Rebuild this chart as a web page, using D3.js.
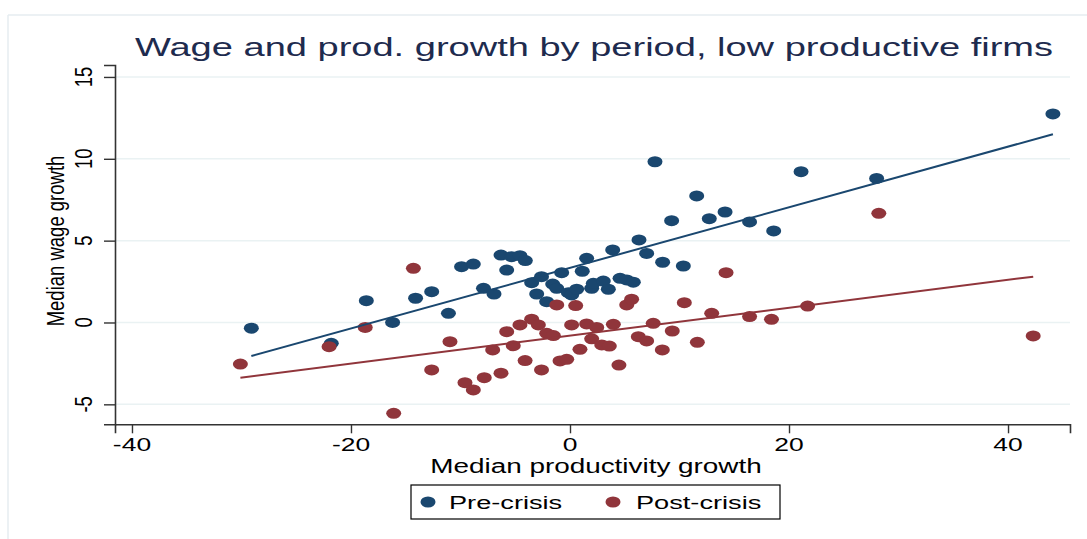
<!DOCTYPE html>
<html>
<head>
<meta charset="utf-8">
<script src="https://cdn.jsdelivr.net/npm/d3@7/dist/d3.min.js"></script>
<style>
  html, body { margin: 0; padding: 0; background: #ffffff; }
  svg { display: block; }
  text { font-family: "Liberation Sans", Arial, sans-serif; }
</style>
</head>
<body>
<svg id="chart" width="1087" height="539"></svg>
<script>
// ---- Data ----
const preX = [-29.1,-21.8,-18.6,-16.2,-14.1,-12.63,-11.1,-9.9,-8.83,-7.9,-6.94,-6.3,-5.78,-5.33,-4.57,-4.08,-3.5,-3.04,-2.6,-2.13,-1.58,-1.21,-0.76,-0.15,0.15,0.61,1.12,1.52,1.98,2.13,3.04,3.5,3.9,4.57,5.18,5.78,6.3,7.0,7.76,8.46,9.28,10.35,11.57,12.72,14.16,16.4,18.6,21.1,28.0,44.1];
const preY = [-0.35,-1.27,1.33,0.0,1.48,1.88,0.56,3.41,3.57,2.09,1.74,4.12,3.2,4.02,4.08,3.78,2.43,1.74,2.8,1.27,2.35,2.09,3.04,1.82,1.68,2.03,3.13,3.92,2.09,2.39,2.53,2.03,4.43,2.7,2.6,2.46,5.04,4.22,9.82,3.68,6.22,3.45,7.73,6.34,6.75,6.14,5.59,9.21,8.8,12.74];
const postX = [-30.1,-22.0,-18.7,-16.1,-14.3,-12.63,-10.96,-9.59,-8.83,-7.83,-7.06,-6.3,-5.78,-5.18,-4.57,-4.1,-3.5,-2.89,-2.6,-2.13,-1.52,-1.21,-0.91,-0.3,0.15,0.52,0.91,1.52,1.98,2.44,2.9,3.59,3.96,4.47,5.18,5.63,6.24,7.0,7.6,8.43,9.34,10.44,11.63,12.94,14.25,16.4,18.4,21.7,28.2,42.3];
const postY = [-2.54,-1.48,-0.3,-5.55,3.31,-2.9,-1.17,-3.68,-4.12,-3.37,-1.68,-3.1,-0.56,-1.42,-0.15,-2.33,0.2,-0.15,-2.9,-0.66,-0.8,1.07,-2.35,-2.25,-0.15,1.03,-1.64,-0.09,-1.0,-0.3,-1.37,-1.44,-0.11,-2.6,1.07,1.42,-0.87,-1.13,-0.05,-1.68,-0.52,1.21,-1.21,0.56,3.04,0.36,0.19,1.0,6.67,-0.82];
// fitted lines (endpoints)
const preFitX = [-29.1, 44.1];
const preFitY = [-2.05, 11.5];
const postFitX = [-30.1, 42.3];
const postFitY = [-3.37, 2.8];
const xTicks = [-40, -20, 0, 20, 40];
const yTicks = [-5, 0, 5, 10, 15];
const seriesNames = ["Pre-crisis", "Post-crisis"];
const titleText = "Wage and prod. growth by period, low productive firms";
const xTitle = "Median productivity growth";
const yTitle = "Median wage growth";

// ---- Layout ----
const SX = 1.43;  // horizontal stretch of the reference (horizontal text)
const SXR = 1.32; // stretch for rotated text
const colors = ["#1a476f", "#90353b"];
const svg = d3.select("#chart");
const pL = 115, pR = 1070, pT = 65, pB = 424.3;
const x = d3.scaleLinear().domain([-41.55, 45.66]).range([pL, pR]);
const y = d3.scaleLinear().domain([-6.22, 15.73]).range([pB, pT]);

function stext(g, tx, ty, str, size, anchor, rot, fill) {
  const s = rot ? SXR : SX;
  return g.append("text")
    .attr("transform", `translate(${tx},${ty}) scale(${s},1)` + (rot ? ` rotate(${rot})` : ""))
    .attr("text-anchor", anchor)
    .attr("font-size", size)
    .attr("fill", fill || "#000")
    .text(str);
}

// outer frame lines
svg.append("line").attr("x1", 8).attr("x2", 8).attr("y1", 15).attr("y2", 539).attr("stroke", "#e6edf0").attr("stroke-width", 1.5);
svg.append("line").attr("x1", 8).attr("x2", 1087).attr("y1", 15).attr("y2", 15).attr("stroke", "#e6edf0").attr("stroke-width", 1.5);

// gridlines
svg.append("g").selectAll("line").data(yTicks).join("line")
  .attr("x1", pL).attr("x2", pR)
  .attr("y1", d => y(d)).attr("y2", d => y(d))
  .attr("stroke", "#eaf2f3").attr("stroke-width", 1.5);

// axes
const yAxis = d3.axisLeft(y).tickValues(yTicks).tickSize(11).tickFormat("");
const gy = svg.append("g").attr("transform", `translate(${pL},0)`).call(yAxis);
const xAxis = d3.axisBottom(x).tickValues(xTicks).tickSize(9).tickFormat("");
const gx = svg.append("g").attr("transform", `translate(0,${pB})`).call(xAxis);
[gx, gy].forEach(g => {
  g.select(".domain").attr("stroke", "#333").attr("stroke-width", 1.6);
  g.selectAll(".tick line").attr("stroke", "#333").attr("stroke-width", 1.4);
});
// tick labels
const lab = svg.append("g");
xTicks.forEach(t => stext(lab, x(t), 451, String(t), 18.5, "middle"));
yTicks.forEach(t => stext(lab, 92, y(t), String(t), 18.5, "middle", -90));

// markers
const rx = 7.5, ry = 5.5;
const sets = [[preX, preY], [postX, postY]];
sets.forEach((s, i) => {
  svg.append("g").selectAll("ellipse").data(s[0].map((v, k) => [v, s[1][k]])).join("ellipse")
    .attr("cx", d => x(d[0])).attr("cy", d => y(d[1]))
    .attr("rx", rx).attr("ry", ry).attr("fill", colors[i]);
});

// fit lines
const line = d3.line().x(d => x(d[0])).y(d => y(d[1]));
[[preFitX, preFitY], [postFitX, postFitY]].forEach((f, i) => {
  svg.append("path").attr("d", line(f[0].map((v, k) => [v, f[1][k]])))
    .attr("fill", "none").attr("stroke", colors[i]).attr("stroke-width", 2);
});

// titles
stext(svg, 594, 56, titleText, 26.6, "middle", 0, "#1e2b4e");
stext(svg, 596, 473.2, xTitle, 19.5, "middle");
stext(svg, 63.5, 241, yTitle, 18.5, "middle", -90);

// legend
const lg = svg.append("g");
lg.append("rect").attr("x", 411).attr("y", 485).attr("width", 369).attr("height", 34)
  .attr("fill", "#fff").attr("stroke", "#000").attr("stroke-width", 1.2);
const legX = [428, 613], legTX = [449, 636];
seriesNames.forEach((n, i) => {
  lg.append("ellipse").attr("cx", legX[i]).attr("cy", 502).attr("rx", rx).attr("ry", ry).attr("fill", colors[i]);
  stext(lg, legTX[i], 509.3, n, 19, "start");
});
</script>
</body>
</html>
